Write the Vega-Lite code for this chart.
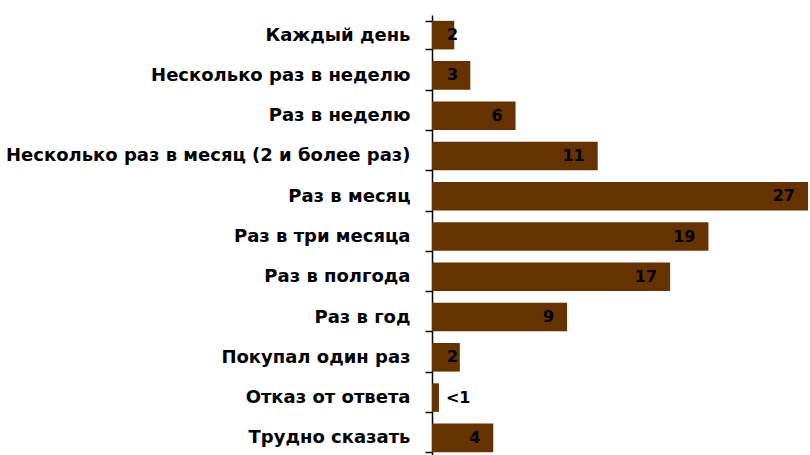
{
  "$schema": "https://vega.github.io/schema/vega-lite/v6.json",
  "width": 376,
  "height": 437,
  "autosize": {"type": "none"},
  "padding": {"left": 432, "top": 15, "right": 2, "bottom": 3},
  "background": "white",
  "config": {"view": {"stroke": null}},
  "data": {
    "values": [
      {"cat": "Каждый день", "v": 1.6, "label": "2"},
      {"cat": "Несколько раз в неделю", "v": 2.75, "label": "3"},
      {"cat": "Раз в неделю", "v": 6.0, "label": "6"},
      {"cat": "Несколько раз в месяц (2 и более раз)", "v": 11.9, "label": "11"},
      {"cat": "Раз в месяц", "v": 27, "label": "27"},
      {"cat": "Раз в три месяца", "v": 19.85, "label": "19"},
      {"cat": "Раз в полгода", "v": 17.1, "label": "17"},
      {"cat": "Раз в год", "v": 9.7, "label": "9"},
      {"cat": "Покупал один раз", "v": 2.0, "label": "2"},
      {"cat": "Отказ от ответа", "v": 0.5, "label": "<1"},
      {"cat": "Трудно сказать", "v": 4.4, "label": "4"}
    ]
  },
  "encoding": {
    "y": {
      "field": "cat",
      "type": "nominal",
      "sort": null,
      "title": null,
      "scale": {"range": [0, 443], "paddingInner": 0.29, "paddingOuter": 0.145},
      "axis": {
        "tickBand": "extent",
        "tickSize": 7,
        "tickColor": "black",
        "tickWidth": 1.5,
        "domainColor": "black",
        "domainWidth": 1.5,
        "labelFont": "DejaVu Sans",
        "labelFontWeight": "bold",
        "labelFontSize": 18,
        "labelColor": "black",
        "labelPadding": 15,
        "labelLimit": 440
      }
    },
    "x": {
      "field": "v",
      "type": "quantitative",
      "scale": {"domain": [0, 27]},
      "axis": null
    }
  },
  "layer": [
    {"mark": {"type": "bar", "color": "#663300"}},
    {
      "transform": [{"filter": "datum.v >= 3"}],
      "mark": {"type": "text", "align": "right", "dx": -13, "font": "DejaVu Sans", "fontWeight": "bold", "fontSize": 16, "color": "black"},
      "encoding": {"text": {"field": "label"}}
    },
    {
      "transform": [{"filter": "datum.v >= 1 && datum.v < 3"}],
      "mark": {"type": "text", "align": "left", "dx": 15, "font": "DejaVu Sans", "fontWeight": "bold", "fontSize": 16, "color": "black"},
      "encoding": {"text": {"field": "label"}, "x": {"datum": 0, "type": "quantitative"}}
    },
    {
      "transform": [{"filter": "datum.v < 1"}],
      "mark": {"type": "text", "align": "left", "dx": 7, "font": "DejaVu Sans", "fontWeight": "bold", "fontSize": 16, "color": "black"},
      "encoding": {"text": {"field": "label"}}
    }
  ]
}
